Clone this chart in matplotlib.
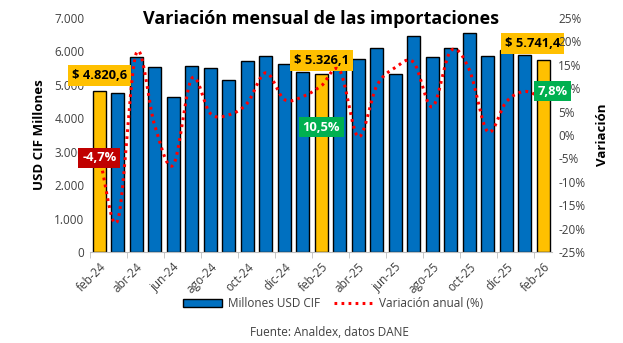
import numpy as np
import matplotlib.pyplot as plt
from matplotlib.patches import Patch
from matplotlib.lines import Line2D

plt.rcParams['font.family'] = ['Open Sans', 'DejaVu Sans']

meses = ['feb-24', 'mar-24', 'abr-24', 'may-24', 'jun-24', 'jul-24', 'ago-24', 'sep-24',
         'oct-24', 'nov-24', 'dic-24', 'ene-25', 'feb-25', 'mar-25', 'abr-25', 'may-25',
         'jun-25', 'jul-25', 'ago-25', 'sep-25', 'oct-25', 'nov-25', 'dic-25', 'ene-26', 'feb-26']

# millones USD CIF
importaciones = [4820.6, 4750, 5830, 5530, 4630, 5560, 5500, 5140,
                 5710, 5870, 5630, 5370, 5326.1, 5600, 5770, 6100,
                 5320, 6460, 5830, 6100, 6550, 5860, 6040, 5880, 5741.4]

# variacion anual (%)
variacion = [-4.7, -18.2, 17.5, 2.0, -6.4, 12.1, 4.6, 4.3,
             6.8, 13.3, 7.6, 8.2, 10.5, 13.8, -0.4, 10.5,
             14.4, 15.5, 6.0, 18.0, 14.0, 0.7, 7.1, 9.3, 7.8]

resaltados = [0, 12, 24]

azul = '#0070C0'
amarillo = '#FFC000'
rojo = '#FF0000'


def suavizar(y, n=20):
    # spline tipo Catmull-Rom, parecido al "suavizado" de Excel
    y = np.asarray(y, dtype=float)
    p = np.concatenate([[2 * y[0] - y[1]], y, [2 * y[-1] - y[-2]]])
    xs, ys = [], []
    for i in range(len(y) - 1):
        p0, p1, p2, p3 = p[i], p[i + 1], p[i + 2], p[i + 3]
        t = np.linspace(0, 1, n, endpoint=False)
        yy = 0.5 * ((2 * p1) + (-p0 + p2) * t + (2 * p0 - 5 * p1 + 4 * p2 - p3) * t ** 2
                    + (-p0 + 3 * p1 - 3 * p2 + p3) * t ** 3)
        xs.append(i + t)
        ys.append(yy)
    xs.append([len(y) - 1])
    ys.append([y[-1]])
    return np.concatenate(xs), np.concatenate(ys)


fig = plt.figure(figsize=(6.23, 3.43), dpi=100)
ax = fig.add_axes([0.1445, 0.2653, 0.7423, 0.6822])
ax2 = ax.twinx()

x = np.arange(len(meses))
colores = [amarillo if i in resaltados else azul for i in x]
ax.bar(x, importaciones, width=0.68, color=colores, edgecolor='black', linewidth=1, zorder=2)

xs, ys = suavizar(variacion)
ax2.plot(xs, ys, color=rojo, linewidth=2.2, linestyle=(0, (0.9, 1.4)), zorder=3)

ax.set_xlim(-0.5, len(meses) - 0.5)
ax.set_ylim(0, 7000)
ax2.set_ylim(-25, 25)

ax.set_yticks(np.arange(0, 7001, 1000))
ax.set_yticklabels([f'{v:,.0f}'.replace(',', '.') for v in np.arange(0, 7001, 1000)])
ax2.set_yticks(np.arange(-25, 26, 5))
ax2.set_yticklabels([f'{v}%' for v in np.arange(-25, 26, 5)])

ax.set_xticks(x[::2])
ax.set_xticklabels(meses[::2], rotation=45, ha='right', va='top', rotation_mode='anchor')
ax.set_xticks(np.arange(-0.5, len(meses), 2), minor=True)
ax.tick_params(axis='x', which='major', length=0, labelsize=8.5, colors='#404040', pad=6)
ax.tick_params(axis='x', which='minor', length=4, color='#BFBFBF')
ax.tick_params(axis='y', length=0, labelsize=8.5, colors='#404040', pad=4)
ax2.tick_params(axis='y', length=0, labelsize=8.5, colors='#404040', pad=4)

for a in (ax, ax2):
    for s in ['top', 'left', 'right']:
        a.spines[s].set_visible(False)
    a.spines['bottom'].set_color('#BFBFBF')
ax2.spines['bottom'].set_visible(False)

ax.set_ylabel('USD CIF Millones', fontsize=9.5, fontweight='bold', labelpad=6)
ax2.set_ylabel('Variación', fontsize=9.5, fontweight='bold', labelpad=8)

fig.text(0.515, 0.945, 'Variación mensual de las importaciones', ha='center', va='center',
         fontsize=13, fontweight='bold')

# etiquetas de valores
def caja(a, xp, yp, txt, fondo, color):
    a.text(xp, yp, txt, ha='center', va='center', fontsize=9.3, fontweight='bold', color=color,
           zorder=5, bbox=dict(boxstyle='square,pad=0.3', fc=fondo, ec='none'))

caja(ax, 0, 5270, '$ 4.820,6', amarillo, 'black')
caja(ax, 12, 5740, '$ 5.326,1', amarillo, 'black')
caja(ax, 23.4, 6240, '$ 5.741,4', amarillo, 'black')
caja(ax2, 0, -4.9, '-4,7%', '#C00000', 'white')
caja(ax2, 12, 1.7, '10,5%', '#00B050', 'white')
caja(ax2, 24.5, 9.4, '7,8%', '#00B050', 'white')

handles = [Patch(facecolor=azul, edgecolor='black', linewidth=1),
           Line2D([0], [0], color=rojo, linewidth=2.2, linestyle=(0, (0.9, 1.4)))]
fig.legend(handles, ['Millones USD CIF', 'Variación anual (%)'], loc='center',
           bbox_to_anchor=(0.535, 0.114), ncol=2, frameon=False, fontsize=8.5,
           handlelength=3.3, columnspacing=1.2, handletextpad=0.5, labelcolor='#404040')

fig.text(0.528, 0.03, 'Fuente: Analdex, datos DANE', ha='center', va='center', fontsize=8.5,
         color='#404040')

fig.savefig('out.png', dpi=100)
